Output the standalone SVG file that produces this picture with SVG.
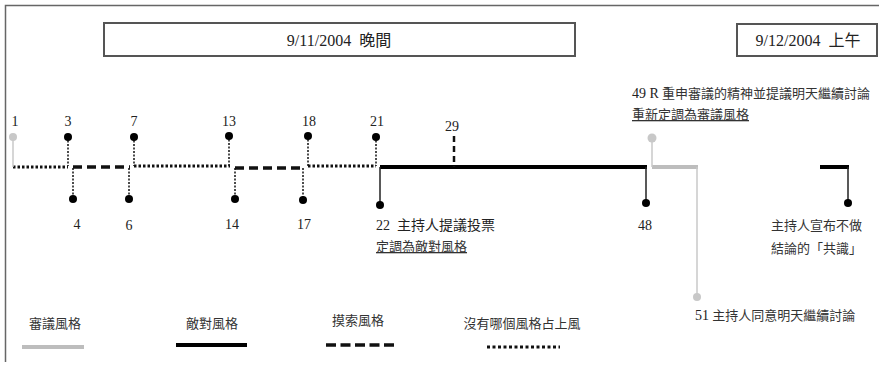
<svg xmlns="http://www.w3.org/2000/svg" width="879" height="365" viewBox="0 0 879 365">
<style>
text{font-family:"Liberation Serif","Noto Sans CJK TC","Noto Sans CJK SC",serif;font-size:13px;fill:#333}
text.n,tspan.n{font-size:14px;fill:#222}
text.t16{font-size:16px;fill:#222}
text.cjk{font-family:"Noto Sans CJK TC","Noto Sans CJK SC",sans-serif}
.mid{text-anchor:middle}
.box{fill:#fff;stroke:#555;stroke-width:2}
.dot{stroke:#111;stroke-width:3;stroke-dasharray:2.5 2;fill:none}
.dash{stroke:#111;stroke-width:3.5;stroke-dasharray:9 5;fill:none}
.solid{stroke:#000;stroke-width:4;fill:none}
.gray{stroke:#bdbdbd;stroke-width:4;fill:none}
.vdot{stroke:#111;stroke-width:1.5;stroke-dasharray:2 1.5;fill:none}
.vsol{stroke:#222;stroke-width:1.5;fill:none}
.vgray{stroke:#c8c8c8;stroke-width:1.5;fill:none}
.bk{fill:#000}
.gy{fill:#c8c8c8}
.ul{text-decoration:underline}
</style>
<g id="frame"><path d="M5.5 362V5.5H879" fill="none" stroke="#666" stroke-width="1.5"/></g>
<g id="box1"><rect class="box" x="104" y="23" width="471" height="33"/><text class="t16 mid" x="339" y="46">9/11/2004&#160; 晚間</text></g>
<g id="box2"><rect class="box" x="737" y="24" width="140" height="32"/><text class="t16 mid" x="808" y="46">9/12/2004&#160; 上午</text></g>
<g id="connectors">
<path class="dot" d="M13 167H68"/>
<path class="dash" d="M73 167H130"/>
<path class="dot" d="M134 166H230"/>
<path class="dash" d="M235 168H303"/>
<path class="dot" d="M308 166H376"/>
<path class="solid" d="M380 167H647"/>
<path class="gray" d="M652 167H698"/>
<path class="solid" d="M820 167H849"/>
<path class="vgray" d="M13 137V167"/>
<path class="vdot" d="M68 137V166"/>
<path class="vdot" d="M73 168V199"/>
<path class="vdot" d="M129 168V199"/>
<path class="vdot" d="M134 137V166"/>
<path class="vdot" d="M229 136V166"/>
<path class="vdot" d="M235 168V199"/>
<path class="vdot" d="M303 168V200"/>
<path class="vdot" d="M308 136V166"/>
<path class="vdot" d="M376 137V166"/>
<path class="vsol" d="M380 167V205"/>
<path d="M454 136V167" stroke="#111" stroke-width="2.5" stroke-dasharray="6 4" fill="none"/>
<path class="vsol" d="M646 167V203"/>
<path class="vgray" d="M652 138V167"/>
<path class="vgray" d="M697 167V297"/>
<path class="vsol" d="M848 167V203"/>
</g>
<g id="n1"><circle class="gy" cx="13" cy="137" r="4"/><text class="n mid" x="15" y="126">1</text></g>
<g id="n3"><circle class="bk" cx="68" cy="137" r="4"/><text class="n mid" x="68" y="126">3</text></g>
<g id="n4"><circle class="bk" cx="73" cy="199" r="4"/><text class="n mid" x="77" y="229">4</text></g>
<g id="n6"><circle class="bk" cx="129" cy="199" r="4"/><text class="n mid" x="129" y="230">6</text></g>
<g id="n7"><circle class="bk" cx="134" cy="137" r="4"/><text class="n mid" x="134" y="126">7</text></g>
<g id="n13"><circle class="bk" cx="229" cy="136" r="4"/><text class="n mid" x="229" y="126">13</text></g>
<g id="n14"><circle class="bk" cx="235" cy="199" r="4"/><text class="n mid" x="232" y="229">14</text></g>
<g id="n17"><circle class="bk" cx="303" cy="200" r="4"/><text class="n mid" x="304" y="229">17</text></g>
<g id="n18"><circle class="bk" cx="308" cy="136" r="4"/><text class="n mid" x="309" y="126">18</text></g>
<g id="n21"><circle class="bk" cx="376" cy="137" r="4"/><text class="n mid" x="377" y="126">21</text></g>
<g id="n22"><circle class="bk" cx="380" cy="205" r="4"/><text class="n" x="376" y="230">22&#160; 主持人提議投票</text><text x="376" y="251" class="ul">定調為敵對風格</text></g>
<g id="n29"><text class="n mid" x="452" y="131">29</text></g>
<g id="n48"><circle class="bk" cx="646" cy="203" r="4"/><text class="n mid" x="645" y="230">48</text></g>
<g id="n49"><circle class="gy" cx="652" cy="138" r="4.5"/><text x="632" y="98"><tspan class="n">49 R</tspan> 重申審議的精神並提議明天繼續討論</text><text x="632" y="119" class="ul">重新定調為審議風格</text></g>
<g id="n51"><circle class="gy" cx="697" cy="297" r="4"/><text x="695" y="320"><tspan class="n">51</tspan> 主持人同意明天繼續討論</text></g>
<g id="nEnd"><circle class="bk" cx="848" cy="203" r="4"/><text x="771" y="230">主持人宣布不做</text><text x="771" y="253">結論的「共識」</text></g>
<g id="legend">
<text class="cjk mid" x="55" y="328">審議風格</text><path class="gray" d="M22 347H84"/>
<text class="cjk mid" x="212" y="328">敵對風格</text><path class="solid" d="M176 345H247"/>
<text class="cjk mid" x="358" y="325">摸索風格</text><path d="M326 345H397" stroke="#111" stroke-width="3.5" stroke-dasharray="10 4.5" fill="none"/>
<text class="cjk mid" x="522" y="328">沒有哪個風格占上風</text><path d="M487 347H560" stroke="#111" stroke-width="3" stroke-dasharray="3 2.5" fill="none"/>
</g>
</svg>
